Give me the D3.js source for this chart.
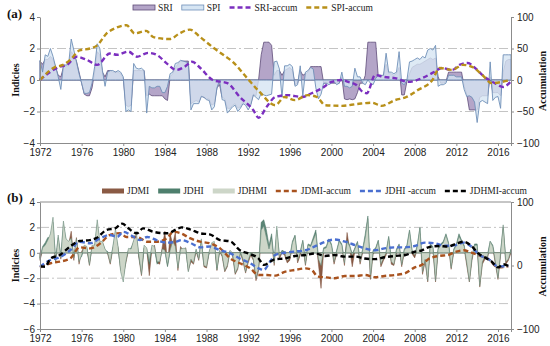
<!DOCTYPE html>
<meta charset="utf-8">
<script src="https://d3js.org/d3.v7.min.js"></script>
<style>
  body { margin: 0; background: #fff; }
  svg { font-family: "Liberation Serif", "Times New Roman", serif; }
  .axis path, .axis line { stroke: #8c8c8c; }
  .axis text { fill: #222; font-size: 10px; }
</style>
<body>
<svg width="550" height="346"></svg>
<script>
// ---- data (quarterly values from Jan 1972) ----
var startYear = 1972;
var yearTicks = [1972, 1976, 1980, 1984, 1988, 1992, 1996, 2000, 2004, 2008, 2012, 2016];

var spi = [
  1.25, 0.5, 1.6, 1.5,   2.0, 1.5, 0.85, 0.2,   -0.6, 0.95, 0.95, 1.0,   2.6, 1.9, 1.15, 0.4,
  -0.2, -0.85, -0.85, -0.8,   -0.2, 0.85, 2.3, 2.0,   0.6, -0.4, 0.5, 0.6,   0.6, 0.5, 0.6, 0.5,
  0.2, -2.0, -1.9, -2.0,   1.05, 0.75, 0.7, 0.75,   0.6, -2.1, -0.4, -0.5,   -0.5, -0.4, -0.4, -0.8,
  -0.8, -0.4, 0.4, 0.5,   1.05, 1.1, 1.25, 1.2,   1.15, 1.1, -1.9, -1.5,   -1.5, -1.5, -1.05, -1.1,
  -1.25, -1.3, -1.9, -1.7,   -0.5, 0.0, -1.25, -1.3,   -2.1, -1.9, -1.7, -1.6,   -2.0, -1.8, -1.5, -1.6,
  -1.9, -1.6, -0.95, -1.1,   -1.25, -0.85, -0.95, -1.0,   -0.95, -0.9, 1.15, 1.2,   0.7, -1.1, 0.9, 0.9,
  1.0, 0.85, -0.4, -0.3,   0.9, -1.0, 0.5, 0.6,   0.8, 0.7, -0.5, -1.2,   -0.9, -0.2, -0.2, -0.3,
  -0.2, -0.1, -0.3, -0.2,   0.5, -0.4, -0.4, -0.5,   -0.4, 0.75, 0.2, 0.2,   -0.2, -0.3, 0.0, -0.2,
  -0.3, 0.1, 0.3, 0.3,   0.3, 1.7, 0.5, 0.5,   0.4, 0.5, 1.8, -0.2,   -0.3, 0.0, 1.15, 1.2,
  1.3, 1.4, 1.3, 1.5,   1.4, 1.9, 2.0, 1.9,   2.2, -0.4, -0.3, -0.3,   -0.2, 0.3, 0.3, 0.3,
  0.2, 0.2, 0.2, -0.6,   -1.05, -1.0, -1.1, -1.4,   -2.7, -1.4, -1.3, -1.4,   -1.5, 1.15, -1.3, -1.1,
  -1.05, -1.8, 1.6, 1.6,   1.6, 1.6
];
var sri = [
  1.2, 1.0, 1.3, 1.3,   1.5, 1.3, 0.8, 0.3,   0.2, 0.8, 0.9, 0.9,   1.8, 1.6, 1.2, 0.5,
  -0.2, -0.9, -1.0, -1.0,   -0.5, 0.5, 1.8, 1.6,   0.5, 0.2, 0.6, 0.6,   0.5, 0.5, 0.5, 0.4,
  0.1, -1.6, -1.7, -1.6,   0.6, 0.6, 0.6, 0.6,   0.6, -1.0, -0.9, -1.0,   -1.0, -1.0, -1.0, -1.0,
  -1.2, -1.3, 0.2, 0.4,   0.8, 1.0, 1.2, 1.2,   1.2, 1.2, -1.5, -1.4,   -1.3, -1.4, -1.0, -1.1,
  -1.2, -1.2, -1.6, -1.5,   -0.5, -0.3, -1.1, -1.2,   -1.8, -1.8, -1.6, -1.5,   -1.8, -1.7, -1.4, -1.5,
  -1.7, -1.5, -0.9, -1.0,   0.0, 1.6, 2.4, 2.4,   2.4, 2.2, 0.3, 0.6,   0.6, 0.3, 0.6, 0.7,
  0.8, 0.6, -0.3, -0.2,   0.6, 0.3, 0.4, 0.5,   0.85, 0.85, 0.85, 0.85,   0.85, -0.2, -0.2, -0.2,
  -0.2, -0.2, -0.2, -0.2,   0.2, -1.2, -1.25, -1.2,   -1.25, -1.2, -0.8, -0.2,   -0.2, 0.3, 2.4, 2.4,
  2.4, 2.4, 0.2, 0.2,   0.3, 1.0, 0.4, 0.4,   0.3, 0.4, 0.8, -0.95,   -0.95, -0.1, 0.4, 0.8,
  0.9, 1.0, 1.0, 1.1,   1.2, 1.3, 1.4, 1.3,   1.4, 0.2, -0.2, -0.2,   -0.1, 0.5, 0.5, 0.5,
  0.5, 0.5, 0.5, -0.4,   -0.9, -1.9, -1.9, -1.9,   -1.9, -1.1, -1.0, -1.0,   -1.0, 0.2, -0.8, -0.8,
  -0.8, -1.0, 0.5, 1.2,   1.3, 1.3
];

var accumYearsA = [1972, 1973, 1973.9, 1974.6, 1975.5, 1976.5, 1977.5, 1978.7, 1979.4, 1980.5, 1981.3,
  1982.4, 1983.2, 1984.2, 1985.1, 1985.9, 1986.6, 1987.4, 1988.6, 1990, 1991.2, 1992.5, 1993, 1993.8,
  1994.6, 1995.8, 1997.2, 1998.1, 1999.1, 2000, 2001, 2001.6, 2002.4, 2003, 2003.4, 2004.2, 2005,
  2006.1, 2007.4, 2008.7, 2009.9, 2010.6, 2011.6, 2012.3, 2013.1, 2013.8, 2014.7, 2015.7, 2016.5, 2017.2];
var sriAccum = [0, 13, 21, 24, 37, 32, 24, 42, 40, 45, 37, 43, 40, 26, 16, 21, 29, 19, 0, -5, -27, -48, -60, -42,
  -27, -24, -27, -21, -13, -3, 0, -3, -8, -19, -21, 8, 5, 3, -3, 3, 13, 19, 16, 24, 27, 19, 5, -5, -11, -3];

var spiYears = [1972, 1973.4, 1974.2, 1974.9, 1975.8, 1976.8, 1977.5, 1978.4, 1979.2, 1980.3, 1981.1,
  1982.2, 1982.9, 1984.5, 1985.4, 1986.4, 1987.4, 1988.6, 1989.6, 1990.5, 1991.9, 1993.1, 1994.6,
  1995.5, 1996.5, 1997.7, 1998.6, 1999.4, 2001, 2002.5, 2003.9, 2004.8, 2006.1, 2007.2, 2008.3,
  2009.7, 2010.4, 2011.6, 2012.6, 2013.5, 2014.5, 2015.4, 2016.4, 2017.2];
var spiAccum = [0, 20, 24, 32, 47, 50, 55, 74, 82, 87, 74, 78, 68, 65, 74, 80, 68, 52, 40, 29, 3, -19, -40,
  -27, -32, -24, -27, -40, -41, -38, -36, -41, -32, -27, -16, 0, 19, 16, 24, 21, 8, -5, -3, 0];

var jdhmi = [
  -0.5, 0.4, 0.6, 1.0,   1.5, 2.8, -0.7, 1.4,   -0.4, 2.5, 1.1, 0.9,   1.15, -0.4, 1.1, -0.7,
  -0.2, 0.6, 0.5, -0.95,   0.6, 0.6, 2.6, 0.9,   0.9, 0.3, 0.0, -0.8,   0.5, 1.9, 0.5, -1.5,
  -2.3, -0.7, 0.35, 0.3,   1.0, 1.7, -0.2, -1.7,   0.6, 0.4, -0.7, 0.6,   0.5, -0.7, -0.7, 0.3,
  0.2, -0.95, 0.2, 0.9,   0.5, -1.2, 0.3, 0.35,   0.35, -1.5, -0.5, -0.8,   0.3, -0.5, 1.1, -1.0,
  -1.1, 0.1, 0.8, 0.9,   -1.35, 0.2, -0.2, -1.4,   -1.0, 0.2, 0.0, -1.6,   -1.2, 0.1, -0.5, -1.5,
  -0.6, 0.0, -0.5, -2.0,   -1.2, 1.8, 2.1, 1.2,   0.3, 1.1, -0.8, 2.1,   -0.3, 0.1, 0.0, -0.6,
  -0.4, 0.8, 1.3, -0.6,   0.0, 0.9, -0.9, 0.6,   0.5, 1.0, 1.5, -0.5,   -1.0, 0.3, 0.4, 1.0,
  0.6, -0.7, 0.1, 0.9,   0.6, -0.8, 0.9, 0.5,   -0.2, 0.3, 0.8, -0.7,   0.2, 1.2, 2.7, -2.0,
  0.1, 0.3, 0.9, -0.9,   -0.4, 0.0, 1.2, -0.7,   -0.9, 0.2, 0.6, -0.95,   0.2, 0.5, 1.7, 0.1,
  -0.2, 0.5, 1.95, -1.5,   -0.5, -2.2, 0.6, 0.4,   -2.2, 0.3, 0.6, 0.8,   1.4, 0.7, -1.2, 0.2,
  0.6, 1.3, 0.9, 0.5,   -0.8, -2.25, -0.4, 0.6,   0.6, -2.6, -0.7, -0.3,   -0.3, 0.9, 0.5, -0.7,
  -2.0, 0.0, 2.2, -0.7,   -0.5, 0.2
];
var jdhi = [
  -0.4, 0.5, 0.8, 1.2,   1.2, 2.4, -0.5, 1.2,   -0.2, 2.2, 1.0, 0.8,   1.0, -0.3, 0.9, -0.5,
  -0.3, 0.4, 0.4, -0.8,   0.4, 0.5, 2.2, 0.8,   0.7, 0.2, 0.1, -0.6,   0.4, 1.6, 0.3, -1.2,
  -2.0, -0.5, 0.2, 0.4,   0.8, 1.4, -0.3, -1.5,   0.4, 0.2, -0.9, 0.4,   0.3, -0.9, -0.5, 0.2,
  0.1, -1.1, 0.1, 0.7,   0.4, -1.0, 0.2, 0.3,   0.2, -1.3, -0.4, -0.6,   0.2, -0.4, 0.9, -0.9,
  -0.9, 0.0, 0.6, 0.7,   -1.2, 0.1, -0.1, -1.2,   -0.8, 0.1, -0.1, -1.4,   -1.0, 0.0, -0.4, -1.3,
  -0.5, -0.1, -0.4, -1.7,   -0.9, 2.4, 2.6, 1.8,   0.6, 1.5, -0.6, 1.8,   -0.2, 0.2, 0.1, -0.4,
  -0.3, 0.9, 1.4, -0.4,   0.1, 1.0, -0.7, 0.7,   0.6, 1.2, 1.8, -0.3,   -0.8, 0.4, 0.5, 1.1,
  0.7, -0.5, 0.2, 1.0,   0.7, -0.6, 1.0, 0.6,   -0.1, 0.4, 0.9, -0.5,   0.3, 1.5, 2.9, -1.6,
  0.2, 0.4, 1.0, -0.7,   -0.3, 0.1, 1.3, -0.5,   -0.7, 0.3, 0.7, -0.8,   0.3, 0.6, 1.8, 0.2,
  -0.1, 0.6, 2.0, -1.2,   -0.4, -1.9, 0.7, 0.5,   -1.9, 0.4, 0.7, 0.9,   1.5, 0.8, -1.0, 0.3,
  0.7, 1.5, 1.0, 0.6,   -0.6, -2.0, -0.3, 0.7,   0.7, -2.3, -0.5, -0.2,   -0.1, 0.9, 0.6, -0.5,
  -1.8, 0.1, 2.0, -0.5,   -0.4, 0.3
];
var jdmi = [
  -0.6, 0.2, 0.4, 0.6,   0.9, 1.5, -0.8, 0.9,   -0.5, 1.4, 0.8, 0.7,   1.7, -0.6, 1.2, -0.9,
  0.1, 0.5, 0.3, -1.0,   0.5, 0.4, 1.5, 0.6,   0.8, 0.2, -0.1, -0.9,   0.3, 1.2, 0.4, -1.3,
  -1.8, -0.8, 0.2, 0.2,   0.9, 1.2, -0.4, -1.8,   0.4, 0.3, -1.8, 0.3,   0.6, -0.8, -0.9, 0.5,
  1.7, -1.0, 1.5, 0.7,   1.6, -1.4, 0.5, 0.2,   0.4, -1.4, -0.7, -0.9,   0.1, -0.6, 0.9, -1.1,
  -1.2, 0.0, 0.6, 0.7,   -1.4, 0.1, -0.3, -1.5,   -1.1, 0.1, -0.2, -1.7,   -1.3, 0.0, -0.7, -1.6,
  -0.8, -0.2, -0.6, -2.2,   -1.4, 1.0, 1.2, 0.6,   0.1, 0.8, -1.0, 1.4,   -0.5, 0.0, -0.2, -0.8,
  -0.6, 0.5, 0.9, -0.8,   -0.2, 0.6, -1.0, 0.4,   0.2, 0.6, 1.0, -0.9,   -2.8, 0.1, 0.2, 0.7,
  0.4, -0.9, -0.1, 0.6,   0.4, -1.0, 1.6, 0.3,   -1.1, 0.1, 0.6, -0.9,   0.0, 0.9, 1.8, -2.1,
  -0.1, 0.1, 0.7, -1.1,   -0.6, -0.2, 0.9, -0.9,   -1.0, 0.0, 0.4, -1.1,   0.0, 0.3, 1.3, -0.1,
  -0.4, 0.3, 1.5, -1.7,   -0.7, -2.3, 0.4, 0.2,   -2.3, 0.1, 0.4, 0.6,   1.1, 0.5, -1.3, 0.0,
  0.4, 1.0, 0.7, 0.3,   -1.0, -2.3, -0.6, 0.4,   0.4, -2.7, -0.9, -0.5,   -0.4, 0.6, 0.4, -0.9,
  -2.1, -0.2, 1.9, -0.9,   -0.6, 0.0
];

var jdhmiYears = [1972, 1972.5, 1973, 1973.9, 1974.9, 1975.8, 1976.8, 1977.4, 1978.4, 1979.2, 1979.9,
  1980.5, 1981.3, 1981.9, 1982.9, 1984.2, 1985.3, 1985.6, 1986.4, 1987.4, 1988.3, 1989.3, 1990.3,
  1991.2, 1992, 1993, 1993.5, 1994.6, 1995.5, 1996.5, 1997.5, 1998.4, 1999.4, 2000.3, 2001.3, 2002.3,
  2003.2, 2004.2, 2005.1, 2006.1, 2007.1, 2008, 2008.7, 2009.3, 2010.3, 2011.2, 2011.9, 2012.7,
  2013.5, 2014.1, 2014.7, 2015.4, 2016, 2016.5, 2017];
var jdhmiAccum = [-1, -2, 11, 16.5, 30, 38.6, 40, 43, 56, 58.5, 66, 58.5, 50.7, 58.5, 53, 50.7, 58.5, 60,
  57, 50.7, 49, 40, 38, 24, 19, 11, 1, 10, 11, 15, 16.5, 19, 15, 16.5, 14, 14, 11, 10, 13, 15, 16.5, 21.7,
  24, 28.6, 30.7, 29.9, 34, 37.5, 30, 19, 13, 6, -3, 2, -0.5];

var jdhiYears = [1972, 1973, 1973.9, 1974.9, 1975.8, 1976.8, 1977.8, 1978.7, 1979.4, 1980, 1981, 1981.6,
  1982.3, 1983.2, 1984.2, 1985.1, 1985.6, 1986.4, 1987.4, 1988.3, 1989.3, 1990.3, 1991.2, 1992.2, 1993,
  1993.5, 1994.1, 1994.6, 1995.5, 1996.5, 1997.5, 1998.4, 1999.4, 2000.3, 2001.3, 2002.3, 2003.2,
  2004.2, 2005.1, 2006.1, 2007.1, 2008, 2009, 2009.9, 2010.9, 2011.9, 2012.7, 2013.5, 2014.1, 2015.1,
  2016, 2017];
var jdhiAccum = [-2, 8.7, 13, 24, 37.5, 35, 43, 48, 45, 53, 45, 40, 45, 40, 36, 37.5, 40, 36, 28.6, 30, 24,
  19, 11, 3.5, -4.5, -7, 6, 16.5, 20, 22, 24, 30, 37.5, 41, 37.5, 32, 27, 24, 27, 28.6, 28.6, 30.7, 36,
  35, 31, 32, 36, 29, 18, 10, -1.5, -1];

var jdmiYears = [1972, 1973, 1973.9, 1974.9, 1975.8, 1976.8, 1977.8, 1978.7, 1979.7, 1980.3, 1981.3,
  1982.3, 1983.2, 1984.2, 1984.8, 1985.5, 1986.4, 1987.4, 1988.3, 1989.3, 1990.3, 1991.2, 1992.2,
  1993, 1993.8, 1994.6, 1995.5, 1996.5, 1997.5, 1998.1, 1998.7, 1999.4, 2000.3, 2001.3, 2002.3,
  2003.2, 2004.2, 2005.1, 2006.1, 2007.1, 2008, 2008.7, 2009.3, 2010.3, 2011.2, 2012, 2012.7, 2013.5,
  2014.1, 2015.1, 2016, 2017];
var jdmiAccum = [-3, 3.5, 6, 11, 28.6, 27, 35, 48, 51, 45, 45, 37.5, 37.5, 43, 53, 51, 43, 37.5, 35, 27,
  11, 3.5, -4.5, -15, -15, -16, -10, -7, -4.5, -7, -17.6, -18.6, -20, -16.5, -16.5, -15, -18.6, -16.5,
  -15, -12, -3, 1, 10, 15, 16.5, 22, 24, 20, 16.5, 10, -3, -1];

// ---- layout ----
var svg = d3.select("svg");
var x = d3.scaleLinear().domain([1972, 2017.25]).range([40, 511]);
function tq(i) { return startYear + i / 4; }

var panels = [
  { top: 17, bottom: 143, left: [-4, 4], right: [-100, 100],
    lticks: [-4, -2, 0, 2, 4], rticks: [-100, -50, 0, 50, 100], grid: [2, -2], frameTop: false },
  { top: 202, bottom: 329, left: [-6, 4], right: [-100, 100],
    lticks: [-6, -4, -2, 0, 2, 4], rticks: [-100, 0, 100], grid: [2, -2, -4], frameTop: true }
];
panels.forEach(function(p) {
  p.yL = d3.scaleLinear().domain(p.left).range([p.bottom, p.top]);
  p.yR = d3.scaleLinear().domain(p.right).range([p.bottom, p.top]);
});

function drawFrame(p, label, labelY) {
  var g = svg.append("g");
  g.selectAll(".grid").data(p.grid).enter().append("line")
    .attr("x1", 40).attr("x2", 511)
    .attr("y1", function(d) { return p.yL(d); }).attr("y2", function(d) { return p.yL(d); })
    .attr("stroke", "#b5b5b5").attr("stroke-width", 0.8).attr("stroke-dasharray", "9,3,2,3");
  g.append("line").attr("x1", 40).attr("x2", 511)
    .attr("y1", p.yL(0)).attr("y2", p.yL(0))
    .attr("stroke", "#9a9a9a").attr("stroke-width", 1);
  if (p.frameTop) {
    g.append("line").attr("x1", 40).attr("x2", 511).attr("y1", p.top).attr("y2", p.top)
      .attr("stroke", "#8c8c8c");
  }
  svg.append("text").attr("x", 7).attr("y", labelY).attr("font-size", 13)
    .attr("font-weight", "bold").attr("fill", "#111").text(label);
}

function drawAxes(p) {
  svg.append("g").attr("class", "axis").attr("transform", "translate(0," + p.bottom + ")")
    .call(d3.axisBottom(x).tickValues(yearTicks).tickFormat(d3.format("d")).tickSize(3).tickPadding(3));
  svg.append("g").attr("class", "axis").attr("transform", "translate(40,0)")
    .call(d3.axisLeft(p.yL).tickValues(p.lticks).tickSize(3).tickPadding(2).tickSizeOuter(0));
  svg.append("g").attr("class", "axis").attr("transform", "translate(511,0)")
    .call(d3.axisRight(p.yR).tickValues(p.rticks).tickSize(3).tickPadding(3).tickSizeOuter(0));
  var mid = (p.top + p.bottom) / 2;
  svg.append("text").attr("transform", "translate(19," + mid + ") rotate(-90)")
    .attr("text-anchor", "middle").attr("font-size", 10).attr("font-weight", "bold")
    .attr("fill", "#111").text("Indicies");
  svg.append("text").attr("transform", "translate(546," + (mid + 1) + ") rotate(-90)")
    .attr("text-anchor", "middle").attr("font-size", 10).attr("font-weight", "bold")
    .attr("fill", "#111").text("Accumulation");
}

function areaOf(p, vals, fill, stroke, sw, op) {
  var a = d3.area().x(function(d, i) { return x(tq(i)); })
    .y0(p.yL(0)).y1(function(d) { return p.yL(d); });
  svg.append("path").datum(vals).attr("d", a)
    .attr("fill", fill).attr("fill-opacity", op)
    .attr("stroke", stroke).attr("stroke-width", sw).attr("stroke-linejoin", "round");
}

function accumLine(p, years, vals, color) {
  var l = d3.line().x(function(d, i) { return x(years[i]); })
    .y(function(d) { return p.yR(d); }).curve(d3.curveMonotoneX);
  svg.append("path").datum(vals).attr("d", l)
    .attr("fill", "none").attr("stroke", color).attr("stroke-width", 2.4)
    .attr("stroke-dasharray", "5,3");
}

function legend(items, x0, y) {
  var xpos = x0;
  items.forEach(function(it) {
    if (it.type === "line") {
      svg.append("line").attr("x1", xpos).attr("x2", xpos + 22).attr("y1", y).attr("y2", y)
        .attr("stroke", it.color).attr("stroke-width", 2.4).attr("stroke-dasharray", "5,3");
    } else {
      svg.append("rect").attr("x", xpos).attr("y", y - 2.5).attr("width", 22).attr("height", 5)
        .attr("fill", it.color).attr("stroke", it.stroke || "none").attr("stroke-width", 0.8);
    }
    var t = svg.append("text").attr("x", xpos + 25).attr("y", y + 3.3)
      .attr("font-size", 9.5).attr("fill", "#222").text(it.name);
    xpos += 25 + t.node().getComputedTextLength() + 9;
  });
}

// ---- panel (a) ----
var pa = panels[0];
drawFrame(pa, "(a)", 18);
areaOf(pa, sri, "#b4a5c8", "#5e4b78", 0.8, 1);
areaOf(pa, spi, "#d6e5f3", "#6f90b8", 0.9, 0.8);
accumLine(pa, accumYearsA, sriAccum, "#7b2fbf");
accumLine(pa, spiYears, spiAccum, "#b8901a");
drawAxes(pa);
legend([
  { name: "SRI", color: "#b4a5c8", stroke: "#5e4b78" },
  { name: "SPI", color: "#d6e5f3", stroke: "#6f90b8" },
  { name: "SRI-accum", color: "#7b2fbf", type: "line" },
  { name: "SPI-accum", color: "#b8901a", type: "line" }
], 133, 7.5);

// ---- panel (b) ----
var pb = panels[1];
drawFrame(pb, "(b)", 202);
areaOf(pb, jdmi, "#8a5a44", "#7a4d38", 0.5, 1);
areaOf(pb, jdhi, "#5b8576", "#4a7564", 0.5, 1);
areaOf(pb, jdhmi, "#cdd6c8", "#6f8f80", 0.6, 1);
accumLine(pb, jdmiYears, jdmiAccum, "#a8521e");
accumLine(pb, jdhiYears, jdhiAccum, "#4a6fd0");
accumLine(pb, jdhmiYears, jdhmiAccum, "#000000");
drawAxes(pb);
legend([
  { name: "JDMI", color: "#8a5a44" },
  { name: "JDHI", color: "#4e7f6d" },
  { name: "JDHMI", color: "#cdd6c8" },
  { name: "JDMI-accum", color: "#a8521e", type: "line" },
  { name: "JDHI -accum", color: "#4a6fd0", type: "line" },
  { name: "JDHMI-accum", color: "#000000", type: "line" }
], 102, 191);
</script>
</body>
